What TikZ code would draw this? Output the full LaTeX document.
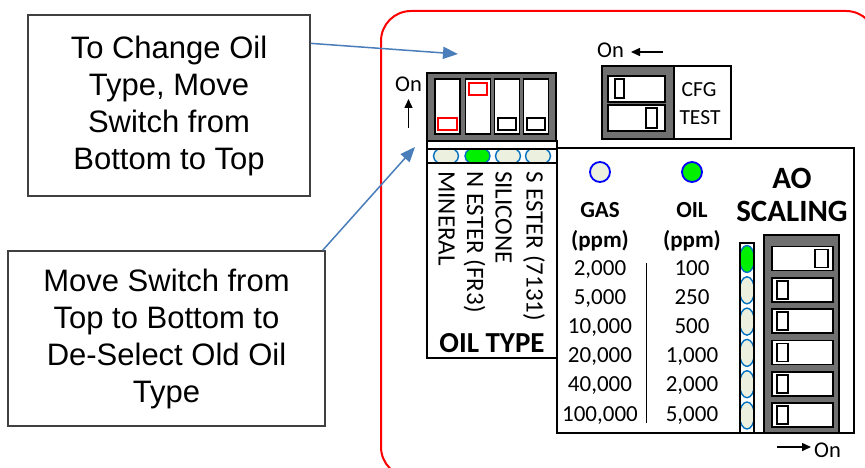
\documentclass[tikz,border=0pt]{standalone}
\usepackage{fontspec}
\setmainfont{Carlito}
\newfontfamily\arialfont{Liberation Sans}
\usetikzlibrary{arrows.meta}

\definecolor{panelgray}{RGB}{112,112,112}
\definecolor{ledfill}{RGB}{235,241,222}
\definecolor{ledblue}{RGB}{0,112,192}
\definecolor{ledgreen}{RGB}{0,240,0}
\definecolor{callblue}{RGB}{74,126,187}
\definecolor{framered}{RGB}{255,0,0}

\tikzset{
  callout/.style={draw=black!75, line width=1.3pt, align=center, inner sep=0pt,
    font=\arialfont\fontsize{31}{37}\selectfont},
  callarrow/.style={draw=callblue, line width=1.5pt, -{Triangle[length=15pt,width=12pt]}, fill=callblue},
  dipbase/.style={draw=black, fill=panelgray, line width=1.8pt},
  slotbox/.style={draw=black, fill=white, line width=1.6pt},
  knob/.style={draw=black, fill=white, line width=1.6pt},
  redknob/.style={draw=framered, fill=white, line width=1.6pt},
  panel/.style={draw=black, line width=1.8pt},
  ledpill/.style={draw=ledblue, line width=1.4pt, fill=ledfill},
  bigled/.style={draw=blue, line width=1.8pt, fill=ledfill},
  onarrow/.style={draw=black, line width=1.5pt, -{Triangle[length=9pt,width=8pt]}},
  ontext/.style={inner sep=0pt, anchor=base, font=\fontsize{22.5}{26}\selectfont},
  cfgtext/.style={inner sep=0pt, anchor=base, font=\fontsize{21.5}{26}\selectfont},
  oillabel/.style={rotate=-90, anchor=base west, inner sep=0pt, font=\fontsize{25}{30}\selectfont},
  headtext/.style={inner sep=0pt, anchor=base, font=\bfseries\fontsize{23}{28}\selectfont},
  numtext/.style={inner sep=0pt, anchor=base, font=\fontsize{23}{28}\selectfont},
  bigtitle/.style={inner sep=0pt, anchor=base, font=\bfseries\fontsize{31}{36}\selectfont},
}

\begin{document}
\begin{tikzpicture}[x=1pt,y=-1pt]
\clip (0,0) rectangle (865,468);
\fill[white] (0,0) rectangle (865,468);

% red outline of the unit
\draw[framered, line width=2pt, rounded corners=30pt] (381,11) rectangle (876,477);

% ---------------- oil type DIP switch ----------------
\draw[dipbase] (427,73) rectangle (556,141);
\foreach \sx in {435,465.5,494.5,523.5}
  \draw[slotbox] (\sx,79) rectangle ++(25,55);
\draw[redknob] (438,118) rectangle (457,130);
\draw[redknob] (469,83) rectangle (487,95);
\draw[knob] (498,118) rectangle (516,130);
\draw[knob] (527,118) rectangle (545,130);

\node[ontext] (onup) at (408.5,92) {On};
\coordinate (upTail) at (408.5,128);
\coordinate (upTip) at (408.5,99);
\draw[onarrow] (upTail) -- (upTip);

% oil type panel with LED row
\begin{scope}
  \clip (427,149) rectangle (557,163);
  \foreach \cx/\col in {446/ledfill,477.5/ledgreen,508/ledfill,538/ledfill}
    \draw[ledpill, fill=\col] (\cx,156) ellipse [x radius=12.5, y radius=9];
\end{scope}
\draw[panel] (427,141) rectangle (557,358);
\draw[line width=1.4pt] (427,149) -- (557,149);
\draw[line width=1.4pt] (427,163) -- (557,163);

\node[oillabel] (lmin) at (438.5,171) {MINERAL};
\node[oillabel] (lnes) at (467,171) {N ESTER (FR3)};
\node[oillabel] (lsil) at (495.5,171) {SILICONE};
\node[oillabel] (lses) at (526.5,171) {S ESTER (7131)};
\node[inner sep=0pt, anchor=base, font=\bfseries\fontsize{29}{34}\selectfont] (oiltype) at (492,352) {OIL TYPE};

% ---------------- CFG / TEST switch ----------------
\draw[panel, fill=white] (602,66) rectangle (731,139);
\draw[dipbase] (602,66) rectangle (674,139);
\draw[slotbox] (608,76) rectangle (665,102);
\draw[slotbox] (608,105) rectangle (665,131);
\draw[knob] (615,79) rectangle (624,98);
\draw[knob] (646,108) rectangle (657,128);
\node[cfgtext] (cfg) at (699,97) {CFG};
\node[cfgtext] (test) at (700,125) {TEST};
\node[ontext] (onleft) at (610.5,58) {On};
\coordinate (leftTail) at (663,52);
\coordinate (leftTip) at (631,52);
\draw[onarrow] (leftTail) -- (leftTip);

% ---------------- gas / oil scaling panel ----------------
\draw[panel, line width=2pt] (557,148) rectangle (854,433);
\draw[bigled] (600,172) circle [radius=10];
\draw[bigled, fill=ledgreen] (692,172) circle [radius=10];
\node[headtext] (gas) at (600,217) {GAS};
\node[headtext] (gasu) at (600,247) {(ppm)};
\node[headtext] (oil) at (692,217) {OIL};
\node[headtext] (oilu) at (692,247) {(ppm)};
\foreach \g/\o [count=\i from 0] in {2{,}000/100,5{,}000/250,10{,}000/500,20{,}000/1{,}000,40{,}000/2{,}000,100{,}000/5{,}000}{
  \node[numtext] at (600,275+29.2*\i) {\g};
  \node[numtext] at (692,275+29.2*\i) {\o};
}
\draw[line width=0.8pt] (646,263) -- (646,423);

\node[bigtitle] (ao) at (792,188) {AO};
\node[bigtitle] (scal) at (792,222) {SCALING};

% LED strip
\begin{scope}
  \clip (741,244) rectangle (753,432);
  \foreach \i in {0,...,5}{
    \ifnum\i=0
      \draw[ledpill, fill=ledgreen] (747,259+31.3*\i) ellipse [x radius=7.5, y radius=13.5];
    \else
      \draw[ledpill] (747,259+31.3*\i) ellipse [x radius=7.5, y radius=13.5];
    \fi
  }
\end{scope}
\draw[line width=1.6pt] (740,243) rectangle (754,433);

% AO scaling DIP switch
\draw[dipbase] (764,235) rectangle (839,433);
\foreach \i in {0,...,5}
  \draw[slotbox] (772,246.5+31.3*\i) rectangle ++(61,24);
\draw[knob] (815,249.5) rectangle (828,267.5);
\foreach \i in {1,...,5}
  \draw[knob] (777,249.5+31.3*\i) rectangle ++(11,18);

\coordinate (rightTail) at (777,447);
\coordinate (rightTip) at (811,447);
\draw[onarrow] (rightTail) -- (rightTip);
\node[ontext] (onright) at (827.5,457) {On};

% ---------------- instruction callouts ----------------
\node[callout, minimum width=282pt, minimum height=181pt] (tbox) at (169,105.5)
  {To Change Oil\\Type, Move\\Switch from\\Bottom to Top};
\node[callout, minimum width=317pt, minimum height=175pt] (bbox) at (166.5,338.5)
  {Move Switch from\\Top to Bottom to\\De-Select Old Oil\\Type};

\coordinate (tipTop) at (458,54);
\coordinate (tipLow) at (415,147);
\draw[callarrow] ([yshift=-29pt]tbox.north east) -- (tipTop);
\draw[callarrow] ([xshift=-3pt]bbox.north east) -- (tipLow);
\end{tikzpicture}
\end{document}
